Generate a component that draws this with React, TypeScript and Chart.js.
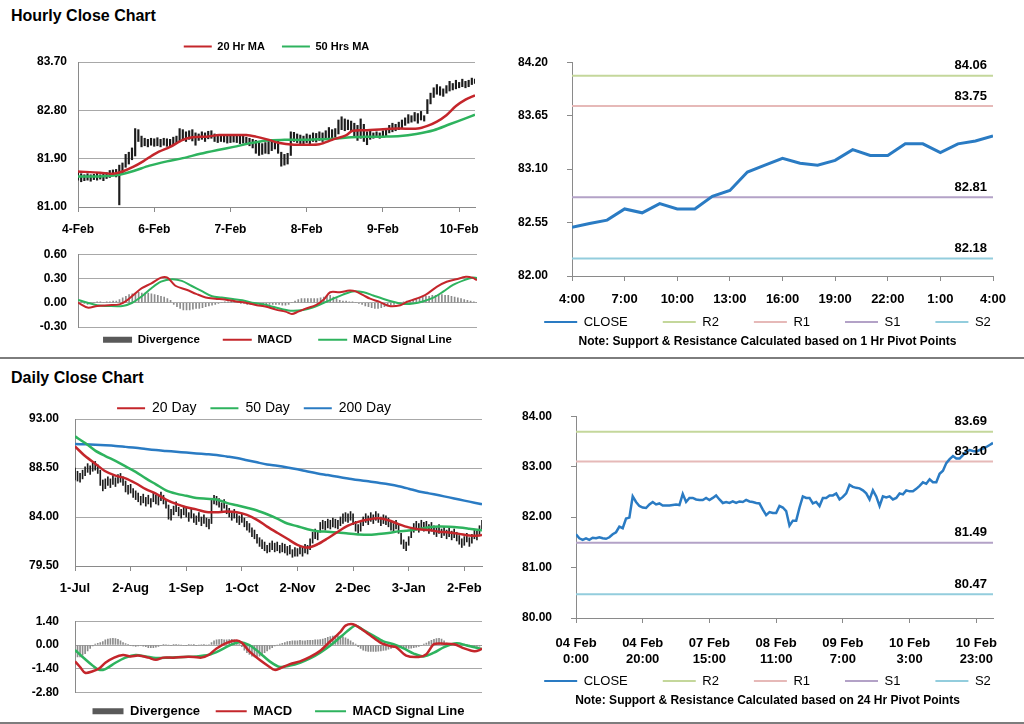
import React, { useEffect, useRef } from 'react';
import { Chart, registerables } from 'chart.js';

Chart.register(...registerables);

const FONT = '"Liberation Sans", Arial, Helvetica, sans-serif';
Chart.defaults.font.family = FONT;
Chart.defaults.color = '#000';

// ---------------- data ----------------
const hourlyDayTicks = ['4-Feb', '6-Feb', '7-Feb', '8-Feb', '9-Feb', '10-Feb'];
const hourlyPriceTicks = [81.0, 81.9, 82.8, 83.7];
const hourlyMacdTicks = [-0.3, 0.0, 0.3, 0.6];

const hourlyHigh = [
  81.66, 81.62, 81.60, 81.62, 81.60, 81.61, 81.63, 81.60, 81.62, 81.64,
  81.68, 81.69, 81.70, 81.78, 81.82, 81.98, 82.02, 82.10, 82.46, 82.44,
  82.32, 82.28, 82.26, 82.28, 82.27, 82.29, 82.26, 82.28, 82.27, 82.26,
  82.30, 82.32, 82.46, 82.44, 82.40, 82.42, 82.44, 82.38, 82.36, 82.40,
  82.38, 82.41, 82.42, 82.36, 82.32, 82.34, 82.35, 82.33, 82.34, 82.33,
  82.34, 82.33, 82.32, 82.30, 82.28, 82.26, 82.24, 82.20, 82.18, 82.20,
  82.22, 82.25, 82.26, 82.24, 82.02, 81.98, 82.00, 82.40, 82.39, 82.36,
  82.34, 82.32, 82.36, 82.34, 82.38, 82.37, 82.40, 82.38, 82.42, 82.48,
  82.44, 82.46, 82.62, 82.68, 82.64, 82.62, 82.60, 82.56, 82.52, 82.64,
  82.54, 82.40, 82.42, 82.38, 82.40, 82.38, 82.42, 82.46, 82.52, 82.56,
  82.54, 82.58, 82.62, 82.66, 82.72, 82.70, 82.76, 82.74, 82.78, 82.70,
  83.00, 83.12, 83.22, 83.28, 83.24, 83.20, 83.26, 83.34, 83.30, 83.36,
  83.32, 83.38, 83.34, 83.36, 83.40, 83.38,
];
const hourlyLow = [
  81.50, 81.47, 81.49, 81.50, 81.48, 81.51, 81.50, 81.52, 81.49, 81.53,
  81.55, 81.58, 81.56, 81.04, 81.62, 81.74, 81.80, 81.88, 81.95, 82.22,
  82.12, 82.14, 82.12, 82.15, 82.13, 82.14, 82.12, 82.15, 82.13, 82.12,
  82.16, 82.18, 82.22, 82.24, 82.22, 82.26, 82.23, 82.15, 82.24, 82.26,
  82.22, 82.27, 82.28, 82.22, 82.20, 82.22, 82.21, 82.19, 82.20, 82.21,
  82.20, 82.18, 82.19, 82.16, 82.14, 82.10, 82.00, 81.96, 81.98, 82.00,
  81.99, 82.05, 82.08, 82.00, 81.76, 81.78, 81.80, 81.96, 82.22, 82.20,
  82.18, 82.16, 82.20, 82.18, 82.22, 82.21, 82.24, 82.22, 82.26, 82.28,
  82.26, 82.30, 82.36, 82.44, 82.42, 82.44, 82.40, 82.30, 82.24, 82.28,
  82.22, 82.16, 82.26, 82.28, 82.30, 82.28, 82.30, 82.32, 82.38, 82.40,
  82.42, 82.44, 82.46, 82.52, 82.56, 82.58, 82.60, 82.56, 82.62, 82.60,
  82.74, 82.92, 83.04, 83.10, 83.08, 83.06, 83.12, 83.16, 83.18, 83.20,
  83.22, 83.24, 83.22, 83.24, 83.28, 83.30,
];
const hourlyMa20X = [0, 7, 11, 14, 17.5, 20.5, 24.5, 29, 33, 36, 40.5, 44.5, 49, 53, 56, 59.5, 63.5, 68, 72, 76, 80, 84.5, 86.5, 91, 96, 101, 107, 110, 113, 116, 119, 122, 125];
const hourlyMa20 = [81.66, 81.64, 81.62, 81.66, 81.75, 81.85, 82.0, 82.12, 82.25, 82.3, 82.31, 82.34, 82.34, 82.34, 82.31, 82.26, 82.19, 82.16, 82.16, 82.17, 82.25, 82.34, 82.42, 82.43, 82.45, 82.46, 82.46, 82.51, 82.59, 82.71, 82.88, 83.0, 83.08];
const hourlyMa50X = [0, 7, 13, 17.5, 22.5, 28, 33, 38.5, 44, 49, 54.5, 59.5, 65, 70, 75.5, 80.5, 86, 91, 96.5, 101.5, 106.5, 112, 117, 122, 125];
const hourlyMa50 = [81.57, 81.57, 81.6, 81.67, 81.77, 81.85, 81.91, 81.99, 82.06, 82.12, 82.19, 82.24, 82.25, 82.25, 82.26, 82.27, 82.3, 82.31, 82.31, 82.32, 82.36, 82.43, 82.54, 82.65, 82.72];

const hourlyMacdX = [0, 3, 6, 9.5, 13, 15, 17.5, 20, 23, 26, 28, 30.5, 34, 37, 40, 43, 46, 49.5, 52.5, 56, 59, 62, 65, 67, 69, 71.5, 74.5, 77, 79, 82, 85, 87, 89.5, 91.5, 94.5, 97.5, 101, 103, 106, 109, 112.5, 115.5, 118.5, 121.5, 123.5, 125];
const hourlyMacd = [0.0, -0.06, -0.04, -0.03, -0.02, 0.02, 0.1, 0.18, 0.24, 0.31, 0.31, 0.21, 0.16, 0.11, 0.065, 0.05, 0.04, 0.015, 0.0, -0.03, -0.05, -0.085, -0.11, -0.14, -0.11, -0.07, -0.03, 0.04, 0.13, 0.13, 0.15, 0.14, 0.09, 0.05, 0.01, -0.04, -0.03, 0.01, 0.05, 0.1, 0.2, 0.26, 0.29, 0.32, 0.31, 0.28];
const hourlySignalX = [0, 3, 6, 9.5, 14, 17, 20, 23, 26, 29.5, 32.5, 35.5, 39, 42, 45, 48.5, 51.5, 54.5, 58, 61, 64, 67, 70.5, 73.5, 76.5, 80, 83, 86, 89.5, 92.5, 95.5, 99, 102, 105, 108, 111.5, 114.5, 117.5, 121, 123.5, 125];
const hourlySignal = [0.035, 0.0, -0.03, -0.04, -0.04, 0.0, 0.08, 0.18, 0.26, 0.29, 0.27, 0.21, 0.14, 0.08, 0.065, 0.045, 0.03, 0.0, -0.02, -0.05, -0.08, -0.1, -0.09, -0.06, -0.01, 0.05, 0.1, 0.14, 0.13, 0.09, 0.05, 0.01, -0.015, -0.01, 0.015, 0.065, 0.14, 0.22, 0.28, 0.31, 0.305];
const hourlyDiv = [
  0.02, 0.01, -0.01, -0.02, -0.01, 0.0, 0.01, 0.01, 0.0, 0.01, 0.01, 0.02, 0.02,
  0.04, 0.06, 0.08, 0.1, 0.11, 0.12, 0.13, 0.12, 0.12, 0.12, 0.11, 0.1, 0.09, 0.08, 0.07, 0.05, 0.03,
  -0.02, -0.05, -0.07, -0.09, -0.09, -0.09, -0.08, -0.07, -0.07, -0.06, -0.05, -0.04, -0.03, -0.02,
  -0.01, 0.0, 0.01, 0.01, 0.02, 0.01, 0.0, -0.01, -0.01, -0.02, -0.02, -0.02, -0.02, -0.03, -0.03, -0.03, -0.02, -0.02, -0.02, -0.02, -0.03, -0.03, -0.02, 0.0, 0.02,
  0.04, 0.05, 0.05, 0.05, 0.05, 0.05, 0.05, 0.06, 0.07, 0.08, 0.09, 0.07, 0.05, 0.03,
  0.02, 0.02, 0.01, 0.01, 0.0, -0.01, -0.02,
  -0.04, -0.05, -0.06, -0.07, -0.07, -0.06, -0.05, -0.04, -0.03,
  -0.02, -0.01, 0.0, 0.01, 0.02,
  0.03, 0.04, 0.05, 0.06, 0.07, 0.08, 0.08, 0.09, 0.09, 0.1, 0.1, 0.09, 0.09, 0.08, 0.07, 0.06, 0.05, 0.04, 0.03, 0.02, 0.01, 0.0,
];

const hourLabels = ['4:00', '5:00', '6:00', '7:00', '8:00', '9:00', '10:00', '11:00', '12:00', '13:00', '14:00', '15:00', '16:00', '17:00', '18:00', '19:00', '20:00', '21:00', '22:00', '23:00', '0:00', '1:00', '2:00', '3:00', '4:00'];
const pivotHourClose = [82.5, 82.54, 82.575, 82.69, 82.65, 82.745, 82.69, 82.69, 82.82, 82.88, 83.07, 83.14, 83.21, 83.16, 83.14, 83.19, 83.3, 83.24, 83.24, 83.36, 83.36, 83.27, 83.36, 83.39, 83.44];
const hourlyPivotTicks = [82.0, 82.55, 83.1, 83.65, 84.2];
const levelNames = ['R2', 'R1', 'S1', 'S2'];
const hourlyLevels = [84.06, 83.75, 82.81, 82.18];
const hourlyNote = 'Note: Support & Resistance Calculated based on 1 Hr Pivot Points';

const hourlyClose = [
  81.66, 81.58, 81.55, 81.58, 81.55, 81.59, 81.58, 81.60, 81.58, 81.57,
  81.60, 81.66, 81.70, 81.81, 81.78, 81.97, 81.99, 82.41, 82.30, 82.22,
  82.19, 82.18, 82.25, 82.30, 82.25, 82.27, 82.23, 82.23, 82.23, 82.24,
  82.25, 82.24, 82.46, 82.30, 82.38, 82.38, 82.35, 82.34, 82.34, 82.38,
  82.34, 82.38, 82.43, 82.35, 82.28, 82.30, 82.28, 82.31, 82.28, 82.31,
  82.30, 82.34, 82.31, 82.30, 82.28, 82.27, 82.15, 82.04, 82.10, 82.08,
  82.08, 82.22, 82.19, 82.12, 81.83, 81.93, 81.93, 82.19, 82.41, 82.38,
  82.38, 82.27, 82.30, 82.22, 82.38, 82.38, 82.43, 82.43, 82.47, 82.35,
  82.40, 82.47, 82.64, 82.60, 82.58, 82.57, 82.53, 82.47, 82.35, 82.53,
  82.41, 82.22, 82.41, 82.39, 82.41, 82.35, 82.38, 82.47, 82.45, 82.53,
  82.51, 82.51, 82.56, 82.62, 82.69, 82.66, 82.75, 82.69, 82.69, 82.86,
  82.92, 83.07, 83.15, 83.21, 83.16, 83.16, 83.23, 83.30, 83.33, 83.31,
  83.30, 83.33, 83.36, 83.39, 83.43, 83.47,
];
const closeTickLabels = [['04 Feb', '0:00'], ['04 Feb', '20:00'], ['07 Feb', '15:00'], ['08 Feb', '11:00'], ['09 Feb', '7:00'], ['10 Feb', '3:00'], ['10 Feb', '23:00']];
const dailyPivotTicks = [80, 81, 82, 83, 84];
const dailyLevels = [83.69, 83.1, 81.49, 80.47];
const dailyNote = 'Note: Support & Resistance Calculated based on 24 Hr Pivot Points';

const dailyMonthTicks = ['1-Jul', '2-Aug', '1-Sep', '1-Oct', '2-Nov', '2-Dec', '3-Jan', '2-Feb'];
const dailyPriceTicks = [79.5, 84.0, 88.5, 93.0];
const dailyMacdTicks = [-2.8, -1.4, 0.0, 1.4];
const dailyLow = [
  87.4, 87.3, 87.2, 87.5, 87.8, 88.1, 87.9, 88.2, 88.3, 88.0,
  86.9, 86.4, 86.6, 86.9, 86.7, 87.0, 86.8, 87.1, 87.2, 86.9,
  86.3, 86.1, 86.2, 85.8, 85.6, 85.4, 85.1, 85.3, 85.0, 85.2,
  84.9, 85.4, 85.2, 85.1, 85.5, 85.2, 84.8, 83.8, 83.7, 84.2,
  84.5, 84.1, 83.9, 84.2, 84.0, 83.6, 83.9, 83.5, 83.3, 83.6,
  83.2, 83.4, 83.1, 82.9, 83.4, 85.2, 85.1, 84.9, 84.5, 84.8,
  84.3, 84.0, 83.7, 83.9, 83.5, 83.3, 83.5, 83.1, 82.8, 82.6,
  82.2, 82.0, 81.6, 81.3, 81.1, 80.9, 80.7, 80.8, 81.0, 80.8,
  80.9, 80.7, 80.8, 80.7, 80.5, 80.6, 80.3, 80.4, 80.4, 80.6,
  80.4, 80.7, 80.6, 81.0, 81.6, 82.0, 81.9, 82.6, 82.9, 82.8,
  83.0, 82.9, 83.1, 83.0, 82.9, 83.2, 83.4, 83.6, 83.5, 83.7,
  83.3, 82.7, 82.5, 82.7, 83.2, 83.5, 83.3, 83.6, 83.4, 83.7,
  83.5, 83.2, 83.4, 83.3, 83.1, 82.8, 82.6, 82.9, 82.5, 81.5,
  81.1, 80.9, 81.4, 82.1, 82.6, 82.8, 82.6, 82.9, 82.7, 82.8,
  82.5, 82.7, 82.4, 82.2, 82.5, 82.1, 82.3, 82.0, 82.2, 81.9,
  82.1, 81.8, 81.5, 81.2, 81.4, 81.7, 81.3, 81.6, 82.0, 81.9,
  82.4, 82.9,
];
const dailyHigh = [
  88.5, 88.2, 88.0, 88.3, 88.6, 88.9, 88.7, 89.0, 89.1, 88.8,
  88.3, 87.4, 87.5, 87.7, 87.5, 87.8, 87.6, 87.9, 88.0, 87.7,
  87.3, 86.9, 87.0, 86.6, 86.4, 86.2, 85.9, 86.1, 85.8, 86.0,
  85.7, 86.2, 86.0, 85.9, 86.3, 86.0, 85.6, 85.1, 84.7, 85.0,
  85.4, 84.9, 84.7, 85.0, 84.8, 84.4, 84.7, 84.3, 84.1, 84.4,
  84.0, 84.2, 83.9, 83.8, 85.7, 86.0, 85.9, 85.7, 85.3, 85.6,
  85.1, 84.8, 84.5, 84.7, 84.3, 84.1, 84.3, 83.9, 83.6, 83.4,
  83.0, 82.8, 82.4, 82.1, 81.9, 81.7, 81.4, 81.6, 81.8, 81.6,
  81.7, 81.4, 81.6, 81.5, 81.3, 81.4, 81.0, 81.2, 81.1, 81.4,
  81.2, 81.5, 81.4, 82.0, 82.6, 82.9, 82.7, 83.5, 83.7, 83.6,
  83.8, 83.7, 83.9, 83.8, 83.7, 84.0, 84.3, 84.4, 84.3, 84.5,
  84.3, 83.6, 83.3, 83.5, 84.0, 84.3, 84.1, 84.4, 84.2, 84.5,
  84.3, 84.0, 84.2, 84.1, 83.9, 83.6, 83.4, 83.7, 83.3, 82.5,
  81.9, 81.7, 82.2, 82.9, 83.4, 83.6, 83.4, 83.7, 83.5, 83.6,
  83.3, 83.5, 83.2, 83.0, 83.3, 82.9, 83.1, 82.8, 83.0, 82.7,
  82.9, 82.6, 82.3, 82.0, 82.2, 82.5, 82.1, 82.4, 82.8, 82.7,
  83.2, 83.7,
];
const dailyMaX = [0, 4, 8, 12, 16, 20, 24, 28, 32, 36, 40, 44, 48, 52, 56, 60, 64, 68, 72, 76, 80, 84, 88, 92, 96, 100, 104, 108, 112, 116, 120, 124, 128, 132, 136, 140, 144, 148, 152, 156, 160, 161];
const daily20 = [90.48, 89.6, 88.9, 88.2, 87.8, 87.55, 87.1, 86.55, 86.15, 85.6, 85.2, 84.9, 84.7, 84.45, 84.44, 84.5, 84.44, 84.2, 83.74, 83.12, 82.55, 82.0, 81.44, 81.19, 81.5, 82.05, 82.65, 83.2, 83.55, 83.77, 83.88, 83.7, 83.35, 83.05, 82.88, 82.8, 82.65, 82.58, 82.45, 82.29, 82.3, 82.35];
const daily50 = [91.4, 90.8, 90.1, 89.6, 89.15, 88.65, 88.15, 87.55, 87.0, 86.45, 86.15, 85.95, 85.75, 85.67, 85.6, 85.3, 85.08, 84.85, 84.6, 84.25, 83.85, 83.4, 83.15, 82.88, 82.7, 82.65, 82.58, 82.48, 82.4, 82.36, 82.43, 82.53, 82.68, 82.75, 82.9, 83.05, 83.12, 83.1, 83.03, 82.92, 82.8, 82.79];
const daily200 = [90.7, 90.67, 90.63, 90.58, 90.52, 90.44, 90.36, 90.25, 90.15, 90.07, 89.99, 89.92, 89.84, 89.77, 89.69, 89.56, 89.42, 89.22, 89.02, 88.83, 88.7, 88.55, 88.38, 88.18, 88.0, 87.85, 87.69, 87.54, 87.39, 87.28, 87.14, 87.0, 86.83, 86.6, 86.35, 86.17, 85.99, 85.8, 85.6, 85.41, 85.22, 85.18];

const dailyMacdX = [0, 2, 4, 7, 9.5, 12, 15.5, 19, 22, 25, 29, 32, 35, 39, 43, 47, 50, 53, 56, 60, 64, 66, 69, 73, 77, 79, 81, 85, 89, 93, 97, 101, 105, 107, 110, 113, 117, 121, 125, 127, 131, 136, 139, 142, 146, 150, 154, 158, 160, 161];
const dailyMacd = [-0.96, -1.29, -1.63, -1.54, -1.38, -1.04, -0.74, -0.59, -0.67, -0.62, -0.74, -0.87, -0.74, -0.74, -0.7, -0.7, -0.74, -0.57, -0.2, 0.13, 0.27, 0.13, -0.37, -0.87, -1.29, -1.46, -1.38, -1.12, -0.96, -0.7, -0.34, 0.22, 0.77, 1.14, 1.22, 0.97, 0.55, 0.13, -0.07, -0.12, -0.62, -0.7, -0.54, 0.05, 0.08, 0.05, -0.2, -0.37, -0.3, -0.2];
const dailySignalX = [0, 3, 7, 9.5, 12, 16, 20, 24, 28, 32, 37, 43, 48, 53, 57, 61, 65, 69, 73, 77, 81, 85, 89, 93, 97, 101, 105, 109, 111, 114, 118, 122, 126, 130, 134, 138, 142, 146, 151, 155, 161];
const dailySignal = [-0.29, -0.7, -1.21, -1.46, -1.41, -1.04, -0.74, -0.59, -0.67, -0.76, -0.74, -0.7, -0.67, -0.57, -0.34, -0.03, 0.17, 0.0, -0.45, -0.96, -1.29, -1.21, -1.04, -0.79, -0.45, -0.03, 0.47, 0.97, 1.14, 0.89, 0.55, 0.22, 0.05, -0.2, -0.5, -0.67, -0.45, -0.12, 0.1, -0.03, -0.23];
const dailyDiv = [
  -0.6, -0.7, -0.7, -0.6, -0.5, -0.35, -0.2,
  -0.05, 0.05, 0.1, 0.15, 0.2,
  0.3, 0.35, 0.38, 0.4, 0.38, 0.33, 0.25, 0.15, 0.08,
  0.02, -0.02, -0.05, -0.08, -0.05, -0.03, -0.06, -0.1,
  -0.15, -0.16, -0.15, -0.12, -0.08,
  -0.03, 0.02, 0.03, 0.0, -0.03, 0.02, 0.04, 0.03, 0.0, -0.03, -0.02, 0.02, 0.03, 0.01, -0.02, 0.0, 0.03, 0.02, 0.0, 0.03,
  0.15, 0.25, 0.3, 0.32, 0.33, 0.3, 0.3, 0.32, 0.33, 0.3, 0.2, 0.05,
  -0.1, -0.3, -0.45, -0.55, -0.65, -0.7, -0.7, -0.65, -0.55, -0.45, -0.35, -0.25, -0.15,
  -0.05, 0.0, 0.05, 0.1, 0.15,
  0.2, 0.22, 0.25, 0.25, 0.25, 0.27, 0.25, 0.25, 0.27, 0.28, 0.28, 0.3, 0.3, 0.32, 0.35, 0.4,
  0.45, 0.5, 0.52, 0.55, 0.55, 0.52, 0.48, 0.42, 0.35, 0.25, 0.15, 0.05,
  -0.1, -0.2, -0.3, -0.35, -0.38, -0.38, -0.38, -0.38, -0.36, -0.35, -0.32, -0.3, -0.25, -0.2,
  -0.15, -0.15, -0.12, -0.12, -0.15, -0.18, -0.2, -0.18, -0.15, -0.12, -0.08, -0.04,
  0.05, 0.12, 0.2, 0.28, 0.33, 0.38, 0.4, 0.35, 0.25, 0.12,
  0.05, 0.02, -0.02, -0.04, -0.02, 0.03, 0.05, 0.04, 0.0, -0.03, -0.06, -0.08, -0.06, -0.04,
];

// ---------------- styling ----------------
const RED = '#c4262b';
const GREEN = '#2eb35e';
const BLUE = '#2a7bc3';
const GRID = '#a8a8a8';
const AXIS = '#8a8a8a';
const LEVEL_COLORS = ['#c4d79b', '#e6b9b8', '#b3a2c7', '#93cddd'];
const NBSP = '\u00A0';

const pts = (xs: number[], ys: number[]) => ys.map((y, i) => ({ x: xs[i], y }));
const series = (ys: number[]) => ys.map((y, i) => ({ x: i, y }));
const ranges = (lo: number[], hi: number[]) => lo.map((l, i) => ({ x: i, y: [l, hi[i]] }));

const base = { responsive: false, maintainAspectRatio: false, animation: false, events: [] as string[] };

const legendLabels = (chart: any) =>
  chart.data.datasets
    .map((d: any, i: number) => ({ d, i }))
    .filter((o: any) => o.d.legend)
    .map(({ d, i }: any) => ({
      text: d.label + NBSP.repeat(d.legend.pad || 0),
      fillStyle: d.legend.style === 'rect' ? d.legend.color : d.borderColor,
      strokeStyle: d.legend.style === 'rect' ? d.legend.color : d.borderColor,
      lineWidth: d.legend.style === 'rect' ? 0 : 2,
      pointStyle: d.legend.style,
      hidden: false,
      datasetIndex: i,
      fontColor: '#000',
    }));

const legendOpts = (o: { position: string; fullSize: boolean; padding: number; size: number; bold: boolean; lineLen: number; maxHeight?: number }) => ({
  display: true,
  position: o.position,
  fullSize: o.fullSize,
  maxHeight: o.maxHeight,
  labels: {
    usePointStyle: true,
    pointStyleWidth: o.lineLen,
    boxHeight: 6,
    padding: o.padding,
    color: '#000',
    font: { size: o.size, weight: o.bold ? 'bold' : 'normal' },
    generateLabels: legendLabels,
  },
});

const xAxis = (o: { max: number; ticks?: number[]; labels?: any[]; height?: number; padding?: number; size?: number; hidden?: boolean; lineHeight?: number; mirror?: boolean }) =>
  o.hidden
    ? { type: 'linear', min: 0, max: o.max, offset: false, display: false }
    : {
        type: 'linear',
        min: 0,
        max: o.max,
        offset: false,
        afterBuildTicks: (s: any) => { s.ticks = (o.ticks as number[]).map((v) => ({ value: v })); },
        afterFit: (s: any) => { s.height = o.height; },
        ticks: {
          autoSkip: false,
          maxRotation: 0,
          minRotation: 0,
          mirror: !!o.mirror,
          padding: o.padding,
          color: '#000',
          font: { size: o.size, weight: 'bold', lineHeight: o.lineHeight ?? 1.2 },
          callback: (_v: any, i: number) => (o.labels as any[])[i],
        },
        grid: { offset: false, drawOnChartArea: false, drawTicks: true, tickLength: 5, color: AXIS, lineWidth: 1 },
        border: { display: true, color: AXIS, width: 1 },
      };

const yAxis = (o: { min: number; max: number; ticks: number[]; width: number; padding: number; size: number; grid: boolean }) => ({
  min: o.min,
  max: o.max,
  afterBuildTicks: (s: any) => { s.ticks = o.ticks.map((v) => ({ value: v })); },
  afterFit: (s: any) => { s.width = o.width; },
  ticks: { padding: o.padding, color: '#000', font: { size: o.size, weight: 'bold' }, callback: (v: any) => Number(v).toFixed(2) },
  grid: o.grid
    ? { color: GRID, drawTicks: false, lineWidth: 1 }
    : { drawOnChartArea: false, drawTicks: true, tickLength: 5, color: AXIS, lineWidth: 1 },
  border: { display: true, color: AXIS, width: 1 },
});

const levelLabelPlugin = {
  id: 'levelLabels',
  afterDatasetsDraw(chart: any, _args: any, opts: any) {
    const { ctx, chartArea } = chart;
    const y = chart.scales.y;
    ctx.save();
    ctx.font = `bold 13px ${FONT}`;
    ctx.fillStyle = '#000';
    ctx.textAlign = 'right';
    ctx.textBaseline = 'middle';
    (opts.values || []).forEach((v: number) => {
      ctx.fillText(v.toFixed(2), chartArea.right - 6, y.getPixelForValue(v) - 10);
    });
    ctx.restore();
  },
};

const lineDs = (label: string, data: any[], color: string, width: number, order: number, legend?: any) => ({
  type: 'line',
  label,
  data,
  borderColor: color,
  backgroundColor: color,
  borderWidth: width,
  pointRadius: 0,
  tension: 0.3,
  fill: false,
  order,
  legend,
});

// ---------------- chart configs ----------------
const cfgHourlyPrice = (): any => ({
  type: 'bar',
  data: {
    datasets: [
      { type: 'bar', label: 'Hourly High-Low', data: ranges(hourlyLow, hourlyHigh), backgroundColor: '#1c1c1c', barThickness: 1.5, order: 3 },
      lineDs('20 Hr MA', pts(hourlyMa20X, hourlyMa20), RED, 2.5, 1, { style: 'line' }),
      lineDs('50 Hrs MA', pts(hourlyMa50X, hourlyMa50), GREEN, 2.5, 2, { style: 'line' }),
    ],
  },
  options: {
    ...base,
    layout: { padding: { left: 0, right: 15, top: 24, bottom: 0 } },
    plugins: {
      tooltip: { enabled: false },
      legend: legendOpts({ position: 'top', fullSize: false, padding: 17, size: 11, bold: true, lineLen: 28 }),
    },
    scales: {
      x: xAxis({ max: 125, ticks: hourlyDayTicks.map((_, i) => i * 24), labels: hourlyDayTicks, height: 30, padding: 10, size: 12 }),
      y: yAxis({ min: 81, max: 83.7, ticks: hourlyPriceTicks, width: 78, padding: 11, size: 12, grid: true }),
    },
  },
});

const cfgHourlyMacd = (): any => ({
  type: 'bar',
  data: {
    datasets: [
      { type: 'bar', label: 'Divergence', data: series(hourlyDiv), backgroundColor: '#8c8c8c', barThickness: 1, order: 3, legend: { style: 'rect', color: '#595959', pad: 5 } },
      lineDs('MACD', pts(hourlyMacdX, hourlyMacd), RED, 2, 1, { style: 'line', pad: 6 }),
      lineDs('MACD Signal Line', pts(hourlySignalX, hourlySignal), GREEN, 2, 2, { style: 'line' }),
    ],
  },
  options: {
    ...base,
    layout: { padding: { left: 0, right: 13, top: 12, bottom: 2.5 } },
    plugins: {
      tooltip: { enabled: false },
      legend: legendOpts({ position: 'bottom', fullSize: false, padding: 7, size: 11.5, bold: true, lineLen: 29 }),
    },
    scales: {
      x: xAxis({ max: 125, hidden: true }),
      y: yAxis({ min: -0.3, max: 0.6, ticks: hourlyMacdTicks, width: 78, padding: 11, size: 12, grid: true }),
    },
  },
});

const cfgDailyPrice = (): any => ({
  type: 'bar',
  data: {
    datasets: [
      { type: 'bar', label: 'Daily High-Low', data: ranges(dailyLow, dailyHigh), backgroundColor: '#1c1c1c', barThickness: 1, order: 4 },
      lineDs('20 Day', pts(dailyMaX, daily20), RED, 2.5, 1, { style: 'line' }),
      lineDs('50 Day', pts(dailyMaX, daily50), GREEN, 2.5, 2, { style: 'line' }),
      lineDs('200 Day', pts(dailyMaX, daily200), BLUE, 2.5, 3, { style: 'line' }),
    ],
  },
  options: {
    ...base,
    layout: { padding: { left: 26, right: 18, top: 27.3, bottom: 0 } },
    plugins: {
      tooltip: { enabled: false },
      legend: legendOpts({ position: 'top', fullSize: true, padding: 14, size: 14, bold: false, lineLen: 28, maxHeight: 31.7 }),
    },
    scales: {
      x: xAxis({ max: 161, ticks: dailyMonthTicks.map((_, i) => i * 22), labels: dailyMonthTicks, height: 30, padding: 10, size: 13 }),
      y: yAxis({ min: 79.5, max: 93, ticks: dailyPriceTicks, width: 49, padding: 16, size: 12, grid: true }),
    },
  },
});

const cfgDailyMacd = (): any => ({
  type: 'bar',
  data: {
    datasets: [
      { type: 'bar', label: 'Divergence', data: series(dailyDiv), backgroundColor: '#8c8c8c', barThickness: 1, order: 3, legend: { style: 'rect', color: '#595959', pad: 1 } },
      lineDs('MACD', pts(dailyMacdX, dailyMacd), RED, 2.5, 1, { style: 'line', pad: 3 }),
      lineDs('MACD Signal Line', pts(dailySignalX, dailySignal), GREEN, 2.5, 2, { style: 'line' }),
    ],
  },
  options: {
    ...base,
    layout: { padding: { left: 0, right: 18, top: 10.3, bottom: 0.3 } },
    plugins: {
      tooltip: { enabled: false },
      legend: legendOpts({ position: 'bottom', fullSize: false, padding: 12, size: 13, bold: true, lineLen: 31, maxHeight: 26 }),
    },
    scales: {
      x: xAxis({ max: 161, hidden: true }),
      y: yAxis({ min: -2.8, max: 1.4, ticks: dailyMacdTicks, width: 75, padding: 16, size: 12, grid: true }),
    },
  },
});

// Pivot charts: canvas starts at x=502; y-axis box ~70px (plot starts at 572/576),
// a blank right-side spacer axis lets the legend/note centre like the original.
const pivotConfig = (o: { close: number[]; max: number; levels: number[]; ticks: number[]; min: number; ymax: number; yWidth: number; xTicks: number[]; xLabels: any[]; xHeight: number; xPad: number; top: number; bottom: number; note: string; closeWidth: number; lineHeight?: number }): any => ({
  type: 'line',
  data: {
    datasets: [
      { ...lineDs('CLOSE', series(o.close), BLUE, o.closeWidth, 0, { style: 'line' }), tension: 0 },
      ...levelNames.map((n, i) => ({
        ...lineDs(n, [{ x: 0, y: o.levels[i] }, { x: o.max, y: o.levels[i] }], LEVEL_COLORS[i], 2, 1, { style: 'line' }),
        tension: 0,
      })),
    ],
  },
  options: {
    ...base,
    layout: { padding: { left: 0, right: 0, top: o.top, bottom: o.bottom } },
    plugins: {
      tooltip: { enabled: false },
      legend: legendOpts({ position: 'bottom', fullSize: true, padding: 35, size: 13, bold: false, lineLen: 33, maxHeight: 50 }),
      subtitle: { display: true, position: 'bottom', text: o.note, color: '#000', font: { size: 12, weight: 'bold' }, padding: { top: 4, bottom: 4 } },
      levelLabels: { values: o.levels },
    },
    scales: {
      x: xAxis({ max: o.max, ticks: o.xTicks, labels: o.xLabels, height: o.xHeight, padding: o.xPad, size: 13, lineHeight: o.lineHeight, mirror: true }),
      y: yAxis({ min: o.min, max: o.ymax, ticks: o.ticks, width: o.yWidth, padding: 19, size: 12, grid: false }),
      spacer: {
        type: 'linear',
        position: 'right',
        display: true,
        afterFit: (s: any) => { s.width = 40; },
        ticks: { display: false },
        grid: { display: false, drawTicks: false },
        border: { display: false },
      },
    },
  },
  plugins: [levelLabelPlugin],
});

const cfgHourlyPivot = (): any =>
  pivotConfig({
    close: pivotHourClose,
    max: 24,
    levels: hourlyLevels,
    ticks: hourlyPivotTicks,
    min: 82,
    ymax: 84.2,
    yWidth: 70,
    xTicks: hourLabels.map((_, i) => i).filter((i) => i % 3 === 0),
    xLabels: hourLabels.filter((_, i) => i % 3 === 0),
    xHeight: 4.5,
    xPad: -31.2,
    top: 16,
    bottom: 3.1,
    note: hourlyNote,
    closeWidth: 3,
  });

const cfgDailyPivot = (): any =>
  pivotConfig({
    close: hourlyClose,
    max: 125,
    levels: dailyLevels,
    ticks: dailyPivotTicks,
    min: 80,
    ymax: 84,
    yWidth: 74,
    xTicks: closeTickLabels.map((_, i) => i * 20),
    xLabels: closeTickLabels,
    xHeight: 21.5,
    xPad: -33.3,
    top: 24,
    bottom: 2.1,
    note: dailyNote,
    closeWidth: 2.5,
    lineHeight: 1.18,
  });

// ---------------- components ----------------
function ChartBox(props: { left: number; top: number; width: number; height: number; make: () => any }) {
  const ref = useRef<HTMLCanvasElement>(null);
  useEffect(() => {
    const chart = new Chart(ref.current as HTMLCanvasElement, props.make());
    return () => chart.destroy();
  }, []);
  return (
    <canvas
      ref={ref}
      width={props.width}
      height={props.height}
      style={{ position: 'absolute', left: props.left, top: props.top, width: props.width, height: props.height }}
    />
  );
}

const titleStyle = (top: number): React.CSSProperties => ({
  position: 'absolute',
  left: 11,
  top,
  font: `bold 16px ${FONT}`,
  lineHeight: '20px',
  color: '#000',
  whiteSpace: 'nowrap',
});

export default function App() {
  return (
    <div style={{ position: 'absolute', left: 0, top: 0, width: 1024, height: 724, background: '#fff', overflow: 'hidden', fontFamily: FONT }}>
      <div style={titleStyle(6)}>Hourly Close Chart</div>
      <div style={titleStyle(368)}>Daily Close Chart</div>
      <div style={{ position: 'absolute', left: 0, top: 357, width: 1024, height: 2, background: '#7d7d7d' }} />
      <div style={{ position: 'absolute', left: 0, top: 722, width: 1024, height: 2, background: '#7d7d7d' }} />
      <ChartBox left={0} top={0} width={490} height={237} make={cfgHourlyPrice} />
      <ChartBox left={0} top={236} width={490} height={122} make={cfgHourlyMacd} />
      <ChartBox left={502} top={36} width={531} height={320} make={cfgHourlyPivot} />
      <ChartBox left={0} top={360} width={500} height={236} make={cfgDailyPrice} />
      <ChartBox left={0} top={598} width={500} height={121} make={cfgDailyMacd} />
      <ChartBox left={502} top={390} width={531} height={324} make={cfgDailyPivot} />
    </div>
  );
}
